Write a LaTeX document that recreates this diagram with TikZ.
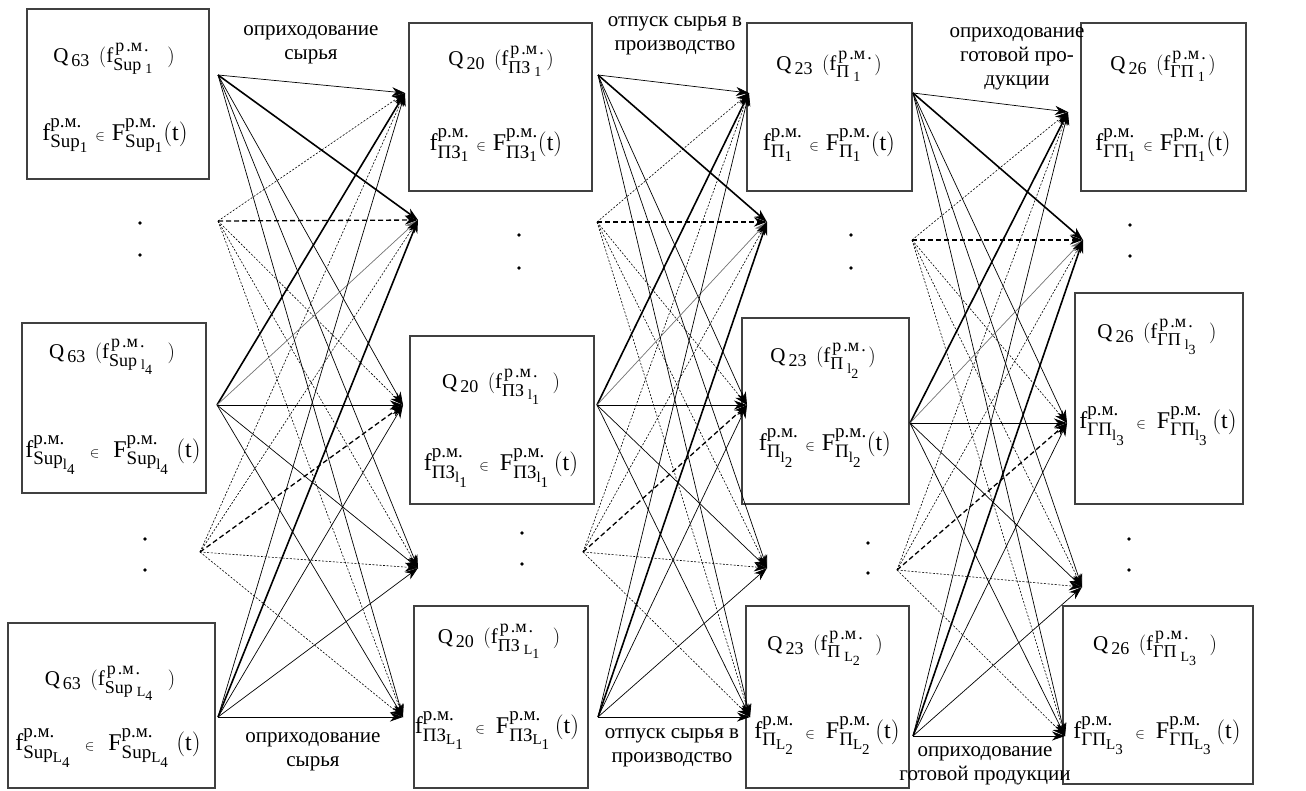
\documentclass[tikz,border=0pt]{standalone}
\usepackage{amsmath}
\usepackage{fontspec}
\setmainfont{Liberation Serif}
\usetikzlibrary{arrows.meta}
\DeclareMathSizes{21}{21}{18}{14}
\DeclareMathSizes{24}{24}{19}{15}
\newcommand{\qln}[4]{$\mathrm{Q}_{\kern3pt\mathrm{#1}}\kern9pt(\mathrm{f}^{\kern2pt\text{р\kern2pt.м\kern2pt.}}_{\text{#2}\kern4pt{}_{#3}}\kern#4)$}
\newcommand{\fln}[3]{$\mathrm{f}^{\text{р.м.}}_{\text{#1}_{#2}}#3\mathrel{\scriptscriptstyle\in}#3\mathrm{F}^{\text{р.м.}}_{\text{#1}_{#2}}#3(\mathrm{t})$}
\begin{document}
\begin{tikzpicture}[x=1pt,y=-1pt,>={Stealth[length=13pt,width=9pt,inset=4pt]},
 box/.style={draw=black!75,line width=1.3pt,inner sep=0pt},
 txt/.style={anchor=base,inner sep=0pt,font=\fontsize{21}{24}\selectfont},
 txtb/.style={anchor=base,inner sep=0pt,font=\fontsize{24}{28}\selectfont},
 lbl/.style={align=center,inner sep=0pt,font=\fontsize{21}{24}\selectfont},
 lthin/.style={->,line width=0.7pt},
 lthick/.style={->,line width=1.6pt},
 lgrey/.style={->,line width=0.7pt,black!55},
 ldot/.style={->,line width=0.6pt,dash pattern=on 2pt off 1.6pt},
 ldash/.style={->,line width=1.3pt,dash pattern=on 5pt off 3pt}]
\useasboundingbox (0,0) rectangle (1306,790);

% boxes
\node[box,minimum width=182pt,minimum height=170pt] (A1) at (118,94) {};
\node[box,minimum width=184pt,minimum height=170pt] (A2) at (114,408) {};
\node[box,minimum width=207pt,minimum height=165pt] (A3) at (111.5,705.5) {};
\node[box,minimum width=183pt,minimum height=168pt] (B1) at (500.5,107) {};
\node[box,minimum width=184pt,minimum height=168pt] (B2) at (502,420) {};
\node[box,minimum width=174pt,minimum height=182pt] (B3) at (501,697) {};
\node[box,minimum width=165pt,minimum height=168pt] (C1) at (829.5,107) {};
\node[box,minimum width=167pt,minimum height=186pt] (C2) at (825.5,411) {};
\node[box,minimum width=163pt,minimum height=182pt] (C3) at (827.5,697) {};
\node[box,minimum width=165pt,minimum height=168pt] (D1) at (1163.5,107) {};
\node[box,minimum width=168pt,minimum height=211pt] (D2) at (1159,398.5) {};
\node[box,minimum width=190pt,minimum height=178pt] (D3) at (1158,695) {};

% box texts
\node[txt] (A1q) at (114,62) {\qln{63}{Sup}{\mathrm{1}}{14pt}};
\node[txtb] (A1f) at (115,140) {\fln{Sup}{\mathrm{1}}{}};
\node[txt] (A2q) at (112,358) {\qln{63}{Sup}{\mathrm{l}_{\mathrm{4}}}{14pt}};
\node[txtb] (A2f) at (113,457) {\fln{Sup}{\mathrm{l}_{\mathrm{4}}}{\;}};
\node[txt] (A3q) at (110,685) {\qln{63}{Sup}{\mathrm{L}_{\mathrm{4}}}{14pt}};
\node[txtb] (A3f) at (108,750) {\fln{Sup}{\mathrm{L}_{\mathrm{4}}}{\;}};

\node[txt] (B1q) at (501,65) {\qln{20}{ПЗ}{\mathrm{1}}{2pt}};
\node[txtb] (B1f) at (496,150) {\fln{ПЗ}{\mathrm{1}}{}};
\node[txt] (B2q) at (501,388) {\qln{20}{ПЗ}{\mathrm{l}_{\mathrm{1}}}{12pt}};
\node[txtb] (B2f) at (501,470) {\fln{ПЗ}{\mathrm{l}_{\mathrm{1}}}{\,}};
\node[txt] (B3q) at (499,643) {\qln{20}{ПЗ}{\mathrm{L}_{\mathrm{1}}}{12pt}};
\node[txtb] (B3f) at (497,733) {\fln{ПЗ}{\mathrm{L}_{\mathrm{1}}}{\,}};

\node[txt] (C1q) at (829,70) {\qln{23}{П}{\mathrm{1}}{2pt}};
\node[txtb] (C1f) at (829,150) {\fln{П}{\mathrm{1}}{}};
\node[txt] (C2q) at (823,362) {\qln{23}{П}{\mathrm{l}_{\mathrm{2}}}{2pt}};
\node[txtb] (C2f) at (825,450) {\fln{П}{\mathrm{l}_{\mathrm{2}}}{}};
\node[txt] (C3q) at (825,650) {\qln{23}{П}{\mathrm{L}_{\mathrm{2}}}{12pt}};
\node[txtb] (C3f) at (827,738) {\fln{П}{\mathrm{L}_{\mathrm{2}}}{\,}};

\node[txt] (D1q) at (1163,70) {\qln{26}{ГП}{\mathrm{1}}{2pt}};
\node[txtb] (D1f) at (1163,150) {\fln{ГП}{\mathrm{1}}{}};
\node[txt] (D2q) at (1157,338) {\qln{26}{ГП}{\mathrm{l}_{\mathrm{3}}}{12pt}};
\node[txtb] (D2f) at (1158,428) {\fln{ГП}{\mathrm{l}_{\mathrm{3}}}{\,}};
\node[txt] (D3q) at (1155,650) {\qln{26}{ГП}{\mathrm{L}_{\mathrm{3}}}{12pt}};
\node[txtb] (D3f) at (1157,738) {\fln{ГП}{\mathrm{L}_{\mathrm{3}}}{\,}};

% labels
\node[lbl] (L1t) at (311,45) {оприходование\\сырья};
\node[lbl] (L2t) at (675,36) {отпуск сырья в\\производство};
\node[lbl] (L3t) at (1017,59) {оприходование\\готовой про-\\дукции};
\node[lbl] (L1b) at (313,752) {оприходование\\сырья};
\node[lbl] (L2b) at (672,748) {отпуск сырья в\\производство};
\node[lbl] (L3b) at (985,766) {оприходование\\готовой продукции};

% dots
\foreach \p in {(140,223),(140,255),(145,539),(145,570),
                (519,235),(519,268),(522,533),(522,564),
                (851,235),(851,268),(868,543),(868,573),
                (1130,225),(1130,256),(1129,539),(1129,570)}
  \fill \p circle (1.8pt);

% fan points
\coordinate (s1a) at (218,75);  \coordinate (s1b) at (218,221);
\coordinate (s1c) at (217,405); \coordinate (s1d) at (200,552);
\coordinate (s1e) at (218,717);
\coordinate (t1a) at (405,93);  \coordinate (t1b) at (418,220);
\coordinate (t1c) at (403,405); \coordinate (t1d) at (418,568);
\coordinate (t1e) at (403,717);
\coordinate (s2a) at (598,75);  \coordinate (s2b) at (597,222);
\coordinate (s2c) at (597,405); \coordinate (s2d) at (583,552);
\coordinate (s2e) at (598,717);
\coordinate (t2a) at (749,93);  \coordinate (t2b) at (767,222);
\coordinate (t2c) at (747,405); \coordinate (t2d) at (767,568);
\coordinate (t2e) at (750,717);
\coordinate (s3a) at (913,93);  \coordinate (s3b) at (912,240);
\coordinate (s3c) at (910,423); \coordinate (s3d) at (897,570);
\coordinate (s3e) at (913,736);
\coordinate (t3a) at (1068,112); \coordinate (t3b) at (1083,240);
\coordinate (t3c) at (1067,423); \coordinate (t3d) at (1082,587);
\coordinate (t3e) at (1065,736);

\foreach \g in {1,2,3}{
 \foreach \s/\t/\st in {a/a/lthin,a/b/lthick,a/c/lthin,a/d/lthin,a/e/lthin,
   b/a/ldot,b/b/ldash,b/c/ldot,b/d/ldot,b/e/ldot,
   c/a/lthick,c/b/lgrey,c/c/lthin,c/d/lthin,c/e/lthin,
   d/a/ldot,d/b/ldot,d/c/ldash,d/d/ldot,d/e/ldot,
   e/a/lthin,e/b/lthick,e/c/lthin,e/d/lthin,e/e/lthin}
  {\draw[\st] (s\g\s) -- (t\g\t);}
}
\end{tikzpicture}
\end{document}
